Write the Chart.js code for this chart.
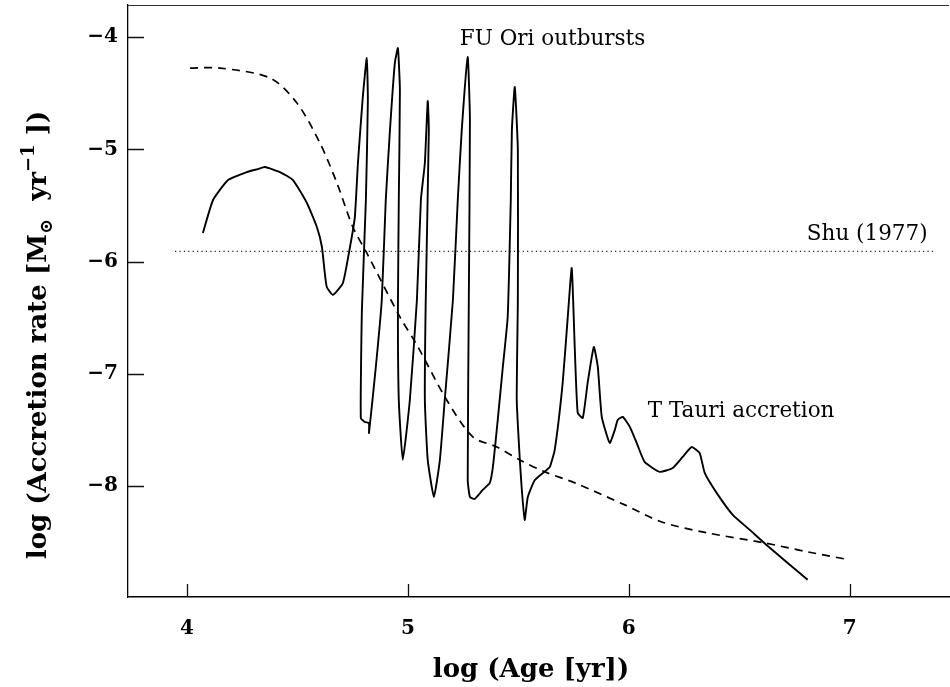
<!DOCTYPE html>
<html>
<head>
<meta charset="utf-8">
<script src="https://cdn.jsdelivr.net/npm/chart.js@4.4.1/dist/chart.umd.min.js"></script>
<style>
  html, body { margin: 0; padding: 0; background: #fff; }
  #wrap { width: 950px; height: 687px; }
</style>
</head>
<body>
<div id="wrap"><canvas id="accretionChart" width="950" height="687"></canvas></div>
<script>
"use strict";

// outburst model, log age [yr] vs log accretion rate (solid line)
const modelAge = [
  4.072, 4.118, 4.186, 4.271, 4.321, 4.353, 4.421, 4.480, 4.543, 4.588,
  4.611, 4.624, 4.633, 4.661, 4.706, 4.738, 4.760, 4.774, 4.796, 4.814,
  4.819, 4.810, 4.792, 4.787, 4.805, 4.824, 4.824, 4.855, 4.882, 4.900,
  4.919, 4.941, 4.955, 4.964, 4.959, 4.955, 4.959, 4.977, 5.009, 5.041,
  5.059, 5.077, 5.090, 5.095, 5.081, 5.077, 5.090, 5.118, 5.145, 5.167,
  5.204, 5.226, 5.244, 5.271, 5.281, 5.276, 5.271, 5.281, 5.303, 5.339,
  5.371, 5.385, 5.407, 5.430, 5.452, 5.466, 5.471, 5.484, 5.498, 5.498,
  5.493, 5.507, 5.516, 5.529, 5.543, 5.575, 5.629, 5.643, 5.665, 5.701,
  5.724, 5.742, 5.756, 5.769, 5.792, 5.814, 5.842, 5.860, 5.878, 5.914,
  5.937, 5.950, 5.973, 6.005, 6.036, 6.072, 6.140, 6.199, 6.244, 6.285,
  6.321, 6.344, 6.398, 6.471, 6.548, 6.624, 6.810
];
const modelRate = [
  -5.746, -5.452, -5.274, -5.203, -5.176, -5.158, -5.203, -5.274, -5.479, -5.693,
  -5.871, -6.103, -6.227, -6.298, -6.192, -5.871, -5.604, -5.122, -4.535, -4.187,
  -4.561, -5.452, -6.432, -7.394, -7.430, -7.439, -7.528, -6.940, -6.343, -5.452,
  -4.829, -4.232, -4.098, -4.472, -5.452, -6.432, -7.234, -7.768, -7.234, -6.343,
  -5.452, -5.122, -4.570, -4.829, -6.343, -7.234, -7.768, -8.098, -7.768, -7.234,
  -6.343, -5.452, -4.829, -4.178, -4.739, -6.343, -7.947, -8.098, -8.116, -8.036,
  -7.973, -7.831, -7.412, -6.940, -6.494, -5.452, -4.829, -4.445, -5.007, -6.343,
  -7.234, -7.768, -8.036, -8.303, -8.098, -7.947, -7.857, -7.831, -7.679, -7.082,
  -6.494, -6.058, -6.788, -7.350, -7.394, -7.082, -6.762, -6.940, -7.385, -7.617,
  -7.501, -7.412, -7.385, -7.474, -7.617, -7.786, -7.875, -7.840, -7.742, -7.653,
  -7.706, -7.884, -8.062, -8.258, -8.392, -8.526, -8.837
];

// envelope infall (dashed line)
const infallAge = [
  4.014, 4.149, 4.376, 4.498, 4.602, 4.679, 4.751, 4.814, 4.964, 5.041,
  5.176, 5.294, 5.403, 5.507, 5.620, 5.756, 5.982, 6.149, 6.357, 6.615,
  6.810, 7.000
];
const infallRate = [
  -4.276, -4.276, -4.365, -4.588, -4.944, -5.301, -5.693, -5.924, -6.494, -6.744,
  -7.234, -7.563, -7.653, -7.768, -7.875, -7.973, -8.169, -8.321, -8.419, -8.508,
  -8.588, -8.659
];

// Shu (1977) constant rate (dotted line)
const shuAge = [3.946, 7.39];
const shuRate = [-5.91, -5.91];

const xTicks = [4, 5, 6, 7];
const yTicks = [-8, -7, -6, -5, -4];

const notes = [
  { text: "FU Ori outbursts", x: 5.235, y: -4.07, align: "left" },
  { text: "Shu (1977)", x: 7.353, y: -5.81, align: "right" },
  { text: "T Tauri accretion", x: 6.086, y: -7.385, align: "left" }
];

const SERIF = "'DejaVu Serif', 'Liberation Serif', serif";

function toPoints(xs, ys) {
  return xs.map((x, i) => ({ x: x, y: ys[i] }));
}

function signed(v) {
  return v < 0 ? "\u2212" + Math.abs(v) : String(v);
}

const decorations = {
  id: "decorations",
  afterDraw(chart) {
    const ctx = chart.ctx;
    const area = chart.chartArea;
    const xs = chart.scales.x;
    const ys = chart.scales.y;

    ctx.save();
    ctx.strokeStyle = "#111";
    ctx.lineWidth = 1.3;

    // inward tick marks
    ctx.beginPath();
    xTicks.forEach(v => {
      const px = Math.round(xs.getPixelForValue(v)) + 0.5;
      ctx.moveTo(px, area.bottom);
      ctx.lineTo(px, area.bottom - 13);
    });
    yTicks.forEach(v => {
      const py = Math.round(ys.getPixelForValue(v)) + 0.5;
      ctx.moveTo(area.left, py);
      ctx.lineTo(area.left + 16, py);
    });
    ctx.stroke();

    // top frame line
    ctx.strokeStyle = "#333";
    ctx.lineWidth = 1;
    ctx.beginPath();
    ctx.moveTo(area.left, area.top + 0.5);
    ctx.lineTo(area.right, area.top + 0.5);
    ctx.stroke();

    // annotations
    ctx.fillStyle = "#000";
    ctx.font = "21.5px " + SERIF;
    ctx.textBaseline = "alphabetic";
    notes.forEach(n => {
      ctx.textAlign = n.align;
      ctx.fillText(n.text, xs.getPixelForValue(n.x), ys.getPixelForValue(n.y));
    });

    // x title
    ctx.font = "bold 26px " + SERIF;
    ctx.textAlign = "center";
    ctx.fillText("log (Age [yr])", 531, 677);

    // y title with subscript and superscript
    const big = "bold 26px " + SERIF;
    const small = "bold 18px " + SERIF;
    const parts = [
      { t: "log (Accretion rate [M", f: big, dy: 0 },
      { t: "\u2299", f: small, dy: 6 },
      { t: "  yr", f: big, dy: 0 },
      { t: "\u22121", f: small, dy: -12 },
      { t: " ])", f: big, dy: 0 }
    ];
    let total = 0;
    parts.forEach(p => { ctx.font = p.f; p.w = ctx.measureText(p.t).width; total += p.w; });
    ctx.translate(46, 335);
    ctx.rotate(-Math.PI / 2);
    ctx.textAlign = "left";
    let cx = -total / 2;
    parts.forEach(p => {
      ctx.font = p.f;
      ctx.fillText(p.t, cx, p.dy);
      cx += p.w;
    });
    ctx.restore();
  }
};

new Chart(document.getElementById("accretionChart"), {
  type: "scatter",
  data: {
    datasets: [
      {
        label: "model",
        data: toPoints(modelAge, modelRate),
        showLine: true,
        borderColor: "#000",
        borderWidth: 1.9,
        tension: 0.15,
        pointRadius: 0
      },
      {
        label: "infall",
        data: toPoints(infallAge, infallRate),
        showLine: true,
        borderColor: "#000",
        borderWidth: 1.7,
        borderDash: [8, 6],
        tension: 0.3,
        pointRadius: 0
      },
      {
        label: "Shu (1977)",
        data: toPoints(shuAge, shuRate),
        showLine: true,
        borderColor: "#222",
        borderWidth: 1.2,
        borderDash: [1.2, 3.2],
        pointRadius: 0
      }
    ]
  },
  options: {
    responsive: false,
    animation: false,
    devicePixelRatio: 1,
    layout: { padding: { top: 5, right: 1, left: 0, bottom: 0 } },
    plugins: {
      legend: { display: false },
      tooltip: { enabled: false }
    },
    scales: {
      x: {
        type: "linear",
        min: 3.733,
        max: 7.45,
        afterBuildTicks: scale => { scale.ticks = xTicks.map(v => ({ value: v })); },
        afterFit: scale => {
          scale.height = 90;
          scale.paddingLeft = 0;
          scale.paddingRight = 0;
        },
        grid: { display: false, drawTicks: false },
        border: { display: true, color: "#000", width: 1.5 },
        ticks: {
          padding: 20,
          color: "#000",
          font: { family: SERIF, size: 20, weight: "bold" },
          maxRotation: 0,
          callback: v => signed(v)
        }
      },
      y: {
        type: "linear",
        min: -8.99,
        max: -3.714,
        afterBuildTicks: scale => { scale.ticks = yTicks.map(v => ({ value: v })); },
        afterFit: scale => {
          scale.width = 128;
          scale.paddingTop = 0;
          scale.paddingBottom = 0;
        },
        grid: { display: false, drawTicks: false },
        border: { display: true, color: "#000", width: 1.3 },
        ticks: {
          padding: 10,
          color: "#000",
          font: { family: SERIF, size: 20, weight: "bold" },
          callback: v => signed(v)
        }
      }
    }
  },
  plugins: [decorations]
});
</script>
</body>
</html>
